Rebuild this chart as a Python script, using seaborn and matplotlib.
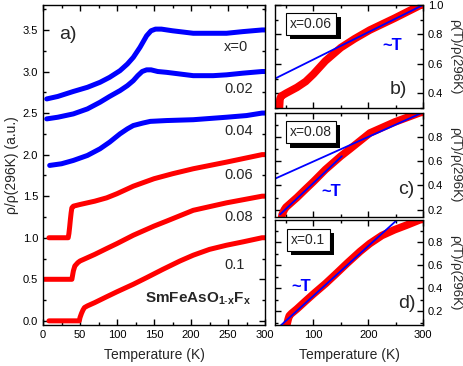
import numpy as np
import pandas as pd
import matplotlib
matplotlib.use("Agg")
import matplotlib.pyplot as plt
import seaborn as sns
from matplotlib import patheffects as pe
from matplotlib.ticker import MultipleLocator

# ---------------- data (normalized rho(T)/rho(296K)) ----------------
x00_T = [5, 20, 41, 60, 77, 90, 104, 114, 122, 131, 140, 146, 152, 160, 175, 203, 230, 248, 270, 296, 300]
x00_R = [0.17, 0.20, 0.26, 0.31, 0.37, 0.43, 0.51, 0.59, 0.67, 0.79, 0.93, 0.99, 1.01, 1.01, 0.99, 0.96, 0.96, 0.96, 0.98, 1.0, 1.0]

x02_T = [5, 20, 41, 60, 77, 90, 104, 114, 122, 128, 134, 140, 146, 155, 167, 185, 203, 230, 248, 270, 296, 300]
x02_R = [0.43, 0.45, 0.49, 0.55, 0.63, 0.70, 0.77, 0.83, 0.89, 0.95, 1.00, 1.02, 1.02, 1.00, 0.99, 0.97, 0.95, 0.95, 0.96, 0.98, 1.0, 1.0]

x04_T = [9, 25, 41, 60, 77, 90, 104, 114, 122, 135, 145, 167, 203, 248, 275, 296, 300]
x04_R = [0.37, 0.39, 0.43, 0.49, 0.57, 0.65, 0.75, 0.81, 0.85, 0.88, 0.90, 0.91, 0.92, 0.95, 0.97, 1.0, 1.0]

x06_T = [8, 20, 34, 35, 36, 37, 38, 39, 41, 50, 70, 86, 100, 122, 150, 175, 203, 248, 296, 300]
x06_R = [0.0, 0.0, 0.0, 0.05, 0.13, 0.22, 0.30, 0.36, 0.38, 0.40, 0.44, 0.48, 0.53, 0.62, 0.71, 0.77, 0.83, 0.91, 1.0, 1.0]

x08_T = [2, 20, 39, 40, 41, 42, 43, 45, 47, 50, 60, 70, 86, 100, 122, 150, 167, 203, 248, 296, 300]
x08_R = [0.0, 0.0, 0.0, 0.05, 0.10, 0.13, 0.16, 0.18, 0.20, 0.22, 0.26, 0.30, 0.37, 0.43, 0.53, 0.64, 0.70, 0.83, 0.92, 1.0, 1.0]

x10_T = [8, 30, 49, 50, 52, 54, 56, 60, 70, 86, 100, 122, 140, 162, 185, 203, 225, 248, 270, 296, 300]
x10_R = [0.0, 0.0, 0.0, 0.04, 0.09, 0.13, 0.16, 0.18, 0.22, 0.29, 0.35, 0.44, 0.52, 0.62, 0.72, 0.79, 0.86, 0.91, 0.95, 1.0, 1.0]

offsets = [2.5, 2.0, 1.5, 1.0, 0.5, 0.0]
labels_a = ["x=0", "0.02", "0.04", "0.06", "0.08", "0.1"]
label_y = [3.29, 2.79, 2.29, 1.75, 1.25, 0.67]

# linear (~T) fits
b_fit_T = [30, 300]
b_fit_R = [0.50, 1.0]
c_fit1_T = [30, 300]
c_fit1_R = [0.455, 1.0]
c_fit2_T = [39, 152]
c_fit2_R = [0.16, 0.64]
d_fit_T = [40, 256]
d_fit_R = [0.074, 1.01]

BLUE = "#0000ff"
RED = "#ff0000"

sns.set_theme(style="ticks")
plt.rcParams["font.family"] = ["Liberation Sans", "DejaVu Sans"]
plt.rcParams["mathtext.fontset"] = "custom"
plt.rcParams["mathtext.rm"] = "Liberation Sans"
plt.rcParams["mathtext.bf"] = "Liberation Sans:bold"
plt.rcParams["axes.linewidth"] = 1.0
plt.rcParams["axes.edgecolor"] = "black"

fig = plt.figure(figsize=(4.63, 3.66), dpi=100)
axA = fig.add_axes([0.0929, 0.112, 0.4795, 0.8743])
axB = fig.add_axes([0.594, 0.7049, 0.3196, 0.2814])
axC = fig.add_axes([0.594, 0.4071, 0.3196, 0.2842])
axD = fig.add_axes([0.594, 0.112, 0.3196, 0.2869])

series = [(x00_T, x00_R), (x02_T, x02_R), (x04_T, x04_R),
          (x06_T, x06_R), (x08_T, x08_R), (x10_T, x10_R)]
colors = [BLUE, BLUE, BLUE, RED, RED, RED]

for (T, R), off, c in zip(series, offsets, colors):
    df = pd.DataFrame({"T": T, "R": np.array(R) + off})
    sns.lineplot(data=df, x="T", y="R", ax=axA, color=c, lw=3.6,
                 sort=False, estimator=None, solid_capstyle="round")

for lab, y in zip(labels_a, label_y):
    axA.text(245, y, lab, fontsize=10.5, va="center", ha="left")

axA.text(22, 3.45, "a)", fontsize=14, va="center", ha="left")
axA.text(138, 0.27, r"SmFeAsO$_{\mathbf{1\text{-}x}}$F$_{\mathbf{x}}$",
         fontsize=11, fontweight="bold", va="center", ha="left")

axA.set_xlim(0, 300)
axA.set_ylim(-0.05, 3.8)
axA.xaxis.set_major_locator(MultipleLocator(50))
axA.xaxis.set_minor_locator(MultipleLocator(25))
axA.yaxis.set_major_locator(MultipleLocator(0.5))
axA.yaxis.set_minor_locator(MultipleLocator(0.25))
axA.set_xlabel("Temperature (K)", fontsize=10, labelpad=6)
axA.set_ylabel("ρ/ρ(296K) (a.u.)", fontsize=10, labelpad=3)
axA.tick_params(which="both", direction="in", top=True, right=True,
                labelsize=8, width=1, colors="black")
axA.tick_params(which="major", length=4)
axA.tick_params(which="minor", length=2.5)

panels = [
    (axB, x06_T, x06_R, [(b_fit_T, b_fit_R)], "x=0.06", "b)", (0.835, 0.18),
     (0.79, 0.61), (0.30, 1.0), (0.245, 0.815)),
    (axC, x08_T, x08_R, [(c_fit1_T, c_fit1_R), (c_fit2_T, c_fit2_R)], "x=0.08", "c)",
     (0.885, 0.26), (0.38, 0.245), (0.14, 0.995), (0.243, 0.814)),
    (axD, x10_T, x10_R, [(d_fit_T, d_fit_R)], "x=0.1", "d)", (0.89, 0.205),
     (0.18, 0.37), (0.08, 0.995), (0.225, 0.81)),
]

for ax, T, R, fits, boxlab, plab, ppos, tpos, ylim, bpos in panels:
    df = pd.DataFrame({"T": T, "R": R})
    sns.lineplot(data=df, x="T", y="R", ax=ax, color=RED, lw=5.5,
                 sort=False, estimator=None)
    for fT, fR in fits:
        fdf = pd.DataFrame({"T": fT, "R": fR})
        sns.lineplot(data=fdf, x="T", y="R", ax=ax, color=BLUE, lw=1.3,
                     sort=False, estimator=None)
    ax.set_xlim(30, 300)
    ax.set_ylim(*ylim)
    ax.xaxis.set_major_locator(MultipleLocator(100))
    ax.xaxis.set_minor_locator(MultipleLocator(50))
    ax.yaxis.set_major_locator(MultipleLocator(0.2))
    ax.yaxis.set_minor_locator(MultipleLocator(0.1))
    ax.tick_params(which="both", direction="in", top=True, right=True, left=True,
                   labelleft=False, labelright=True, labelsize=8, width=1,
                   colors="black")
    ax.tick_params(which="major", length=4)
    ax.tick_params(which="minor", length=2.5)
    ax.yaxis.set_label_position("right")
    ax.set_ylabel("ρ(T)/ρ(296K)", fontsize=9.5, rotation=-90, va="bottom", labelpad=4)
    ax.set_xlabel("")
    t = ax.text(bpos[0], bpos[1], boxlab, transform=ax.transAxes, fontsize=10,
                ha="center", va="center",
                bbox=dict(boxstyle="square,pad=0.3", fc="white", ec="black", lw=0.8))
    t.get_bbox_patch().set_path_effects([
        pe.withSimplePatchShadow(offset=(3, -3), shadow_rgbFace="black", alpha=1.0)])
    ax.text(ppos[0], ppos[1], plab, transform=ax.transAxes, fontsize=14,
            ha="center", va="center")
    ax.text(tpos[0], tpos[1], "~T", transform=ax.transAxes, fontsize=12,
            fontweight="bold", color=BLUE, ha="center", va="center")

axB.tick_params(labelbottom=False)
axC.tick_params(labelbottom=False)
axD.set_xlabel("Temperature (K)", fontsize=10, labelpad=6)

fig.savefig("out.png", dpi=100)
